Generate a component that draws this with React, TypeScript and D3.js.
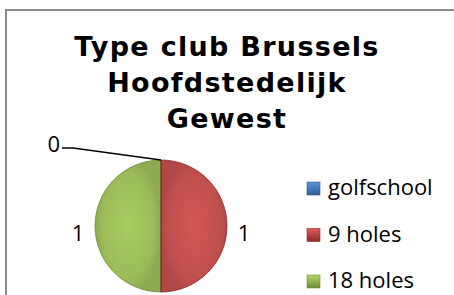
import React from "react";
import * as d3 from "d3";

// Chart data
const categories = ["golfschool", "9 holes", "18 holes"];
const values = [0, 1, 1];
const colors = ["#4F81BD", "#C0504D", "#9BBB59"];
const darkColors = ["#2C5D96", "#8E2B28", "#6E8B34"];
const titleLines = ["Type club Brussels", "Hoofdstedelijk", "Gewest"];

const W = 454;
const H = 295;

export default function App() {
  const cx = 161;
  const cy = 226;
  const radius = 66;
  const labelRadius = 83;

  const pie = d3
    .pie<number>()
    .sort(null)
    .value((d) => d);
  const arcs = pie(values);

  const arc = d3.arc<d3.PieArcDatum<number>>().innerRadius(0).outerRadius(radius);
  const labelArc = d3
    .arc<d3.PieArcDatum<number>>()
    .innerRadius(labelRadius)
    .outerRadius(labelRadius);

  // legend placement
  const legendY = d3.scalePoint<string>().domain(categories).range([188, 281]);

  const labelFont = "'Open Sans', 'Noto Sans', sans-serif";

  return (
    <svg
      width={W}
      height={H}
      style={{ position: "absolute", left: 0, top: 0, display: "block", background: "#fff" }}
    >
      <defs>
        {colors.map((c, i) => (
          <radialGradient key={i} id={`g${i}`} cx="0.5" cy="0.5" r="0.5">
            <stop offset="0%" stopColor={d3.color(c)!.brighter(0.25).formatHex()} />
            <stop offset="80%" stopColor={c} />
            <stop offset="100%" stopColor={d3.color(c)!.darker(0.25).formatHex()} />
          </radialGradient>
        ))}
        {colors.map((c, i) => (
          <linearGradient key={i} id={`m${i}`} x1="0" y1="0" x2="0" y2="1">
            <stop offset="0%" stopColor={d3.color(c)!.brighter(0.4).formatHex()} />
            <stop offset="100%" stopColor={darkColors[i]} />
          </linearGradient>
        ))}
      </defs>

      {/* chart area border */}
      <path d={`M6,${H} V10 H${W}`} fill="none" stroke="#8c8c8c" strokeWidth={2} />

      {/* title */}
      <text
        x={227}
        textAnchor="middle"
        fontFamily="'DejaVu Sans', Verdana, sans-serif"
        fontWeight="bold"
        fontSize={27}
        letterSpacing={1.3}
        fill="#000"
      >
        {titleLines.map((t, i) => (
          <tspan key={i} x={227} y={56 + i * 36}>
            {t}
          </tspan>
        ))}
      </text>

      {/* slices */}
      <g transform={`translate(${cx},${cy})`}>
        {arcs.map((a, i) =>
          a.value > 0 ? (
            <path
              key={i}
              d={arc(a) || ""}
              fill={`url(#g${i})`}
              stroke={darkColors[i]}
              strokeWidth={0.8}
            />
          ) : null
        )}
        {/* dividing line */}
        <line x1={0} y1={-radius} x2={0} y2={radius} stroke="#5a2a1a" strokeWidth={1} />
      </g>

      {/* data labels */}
      {arcs.map((a, i) => {
        if (a.value === 0) {
          // zero slice: label pulled out to the left with a leader line
          const ox = cx + Math.sin(a.startAngle) * radius;
          const oy = cy - Math.cos(a.startAngle) * radius;
          const lx = ox - 99;
          const ly = oy - 12;
          return (
            <g key={i}>
              <polyline
                points={`${lx},${ly} ${lx + 11},${ly} ${ox},${oy}`}
                fill="none"
                stroke="#000"
                strokeWidth={1.3}
              />
              <text
                x={lx - 2}
                y={ly - 5}
                textAnchor="end"
                dominantBaseline="central"
                fontFamily={labelFont}
                fontSize={22}
                fill="#000"
              >
                {a.value}
              </text>
            </g>
          );
        }
        const [lx, ly] = labelArc.centroid(a);
        return (
          <text
            key={i}
            x={cx + lx}
            y={cy + ly + 6}
            textAnchor="middle"
            dominantBaseline="central"
            fontFamily={labelFont}
            fontSize={22}
            fill="#000"
          >
            {a.value}
          </text>
        );
      })}

      {/* legend */}
      {categories.map((c, i) => {
        const y = legendY(c)!;
        return (
          <g key={c}>
            <rect
              x={307}
              y={y - 6}
              width={13}
              height={13}
              fill={`url(#m${i})`}
              stroke={darkColors[i]}
              strokeWidth={0.6}
            />
            <text
              x={328}
              y={y + 7}
              fontFamily={labelFont}
              fontSize={22}
              fill="#000"
            >
              {c}
            </text>
          </g>
        );
      })}
    </svg>
  );
}
